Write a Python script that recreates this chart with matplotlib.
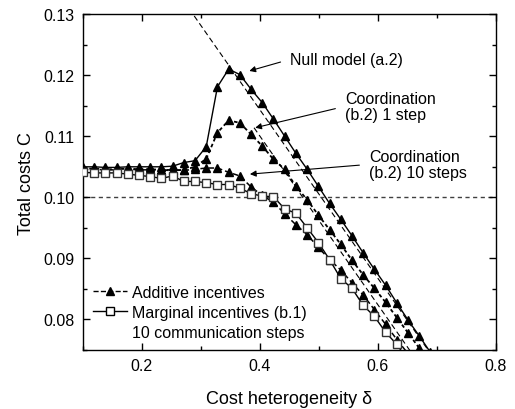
import numpy as np
import matplotlib
matplotlib.use("Agg")
import matplotlib.pyplot as plt
from matplotlib.lines import Line2D

plt.rcParams["font.family"] = ["Liberation Sans", "DejaVu Sans"]

# cost heterogeneity values at which the simulations were sampled
delta = [0.100, 0.119, 0.138, 0.157, 0.176, 0.195, 0.214, 0.233,
         0.252, 0.271, 0.290, 0.309, 0.328, 0.347, 0.366, 0.385,
         0.404, 0.423, 0.442, 0.461, 0.480, 0.499, 0.518, 0.537,
         0.556, 0.575, 0.594, 0.613, 0.632, 0.651, 0.670, 0.689]

# null model (a.2)
null_C = [0.1050, 0.1050, 0.1049, 0.1049, 0.1050, 0.1050, 0.1050, 0.1050,
          0.1051, 0.1057, 0.1060, 0.1083, 0.1181, 0.1210, 0.1201, 0.1177,
          0.1155, 0.1128, 0.1100, 0.1072, 0.1046, 0.1018, 0.0990, 0.0964,
          0.0937, 0.0909, 0.0882, 0.0856, 0.0827, 0.0799, 0.0773, 0.0746]

# coordination (b.2), 1 step
coord1_C = [0.1047, 0.1047, 0.1046, 0.1046, 0.1047, 0.1046, 0.1046, 0.1045,
            0.1044, 0.1045, 0.1050, 0.1063, 0.1106, 0.1126, 0.1122, 0.1103,
            0.1084, 0.1062, 0.1046, 0.1018, 0.0996, 0.0971, 0.0947, 0.0923,
            0.0897, 0.0873, 0.0851, 0.0828, 0.0803, 0.0778, 0.0753, 0.0728]

# coordination (b.2), 10 steps
coord10_C = [0.1046, 0.1046, 0.1045, 0.1045, 0.1046, 0.1045, 0.1045, 0.1045,
             0.1045, 0.1044, 0.1046, 0.1048, 0.1048, 0.1041, 0.1035, 0.1017,
             0.1003, 0.0992, 0.0973, 0.0955, 0.0939, 0.0918, 0.0898, 0.0881,
             0.0860, 0.0840, 0.0816, 0.0792, 0.0767, 0.0744, 0.0720, 0.0696]

# marginal incentives (b.1), 10 communication steps
marginal_C = [0.1041, 0.1040, 0.1040, 0.1040, 0.1038, 0.1036, 0.1034, 0.1031,
              0.1035, 0.1026, 0.1026, 0.1024, 0.1021, 0.1021, 0.1015, 0.1006,
              0.1002, 0.1001, 0.0981, 0.0974, 0.0950, 0.0926, 0.0898, 0.0867,
              0.0851, 0.0823, 0.0805, 0.0779, 0.0759, 0.0733, 0.0710, 0.0690]

# straight dashed reference lines (no markers)
theory_a_x = [0.280, 0.690]
theory_a_y = [0.1309, 0.0743]
theory_b_x = [0.390, 0.660]
theory_b_y = [0.1114, 0.0741]

ref_level = 0.10

fig = plt.figure(figsize=(5.15, 4.1), dpi=100)
ax = fig.add_axes([0.161, 0.144, 0.802, 0.819])

ax.axhline(ref_level, color="0.25", lw=1.0, ls=(0, (3, 2.5)), zorder=1)
ax.plot(theory_a_x, theory_a_y, color="k", lw=0.8, ls=(0, (5, 3)), zorder=2)
ax.plot(theory_b_x, theory_b_y, color="k", lw=0.8, ls=(0, (5, 3)), zorder=2)

tri = dict(marker="^", ms=5.8, mfc="k", mec="k", color="k")
ax.plot(delta, null_C, ls="-", lw=1.0, zorder=4, **tri)
ax.plot(delta, coord1_C, ls=(0, (2, 1.5)), lw=1.3, zorder=4, **tri)
ax.plot(delta, coord10_C, ls=(0, (3.5, 2)), lw=1.1, zorder=4, **tri)
ax.plot(delta, marginal_C, ls="-", lw=1.0, color="k", marker="s", ms=5.8,
        mfc="white", mec="0.2", zorder=5)

ax.set_xlim(0.1, 0.8)
ax.set_ylim(0.075, 0.13)
ax.set_xticks([0.2, 0.4, 0.6, 0.8])
ax.set_xticks([0.1, 0.3, 0.5, 0.7], minor=True)
ax.set_yticks([0.08, 0.09, 0.10, 0.11, 0.12, 0.13])
ax.set_yticks([0.075, 0.085, 0.095, 0.105, 0.115, 0.125], minor=True)
ax.xaxis.set_major_formatter(plt.FuncFormatter(lambda v, p: "%.1f" % v))
ax.yaxis.set_major_formatter(plt.FuncFormatter(lambda v, p: "%.2f" % v))
ax.tick_params(which="both", direction="in", top=True, right=True,
               labelsize=11.5, width=1.0)
ax.tick_params(which="major", length=5, pad=6)
ax.tick_params(which="minor", length=3)
for s in ax.spines.values():
    s.set_linewidth(1.0)

ax.set_xlabel("Cost heterogeneity \u03b4", fontsize=13, labelpad=12)
ax.set_ylabel("Total costs C", fontsize=13, labelpad=6)

arrow = dict(arrowstyle="-|>", color="k", lw=0.8, mutation_scale=9,
             shrinkA=5, shrinkB=0, relpos=(0, 0.5))
ax.annotate("Null model (a.2)", xy=(0.382, 0.1207), xytext=(0.451, 0.1226),
            fontsize=11.5, ha="left", va="center", arrowprops=arrow)
ax.annotate("Coordination\n(b.2) 1 step", xy=(0.392, 0.1114),
            xytext=(0.544, 0.1149), fontsize=11.5, ha="left", va="center",
            linespacing=1.1, arrowprops=arrow)
ax.annotate("Coordination\n(b.2) 10 steps", xy=(0.383, 0.1038),
            xytext=(0.585, 0.1054), fontsize=11.5, ha="left", va="center",
            linespacing=1.1, arrowprops=arrow)

handles = [
    Line2D([], [], color="k", ls="--", lw=1.0, marker="^", ms=5.8, mfc="k"),
    Line2D([], [], color="k", ls="-", lw=1.0, marker="s", ms=5.8,
           mfc="white"),
    Line2D([], [], ls="none"),
]
labels = ["Additive incentives", "Marginal incentives (b.1)",
          "10 communication steps"]
ax.legend(handles, labels, loc="lower left", frameon=False, fontsize=11.5,
          numpoints=1, handlelength=2.1, handletextpad=0.3,
          labelspacing=0.3, borderaxespad=0.45, borderpad=0.2)

fig.savefig("out.png", dpi=100)
